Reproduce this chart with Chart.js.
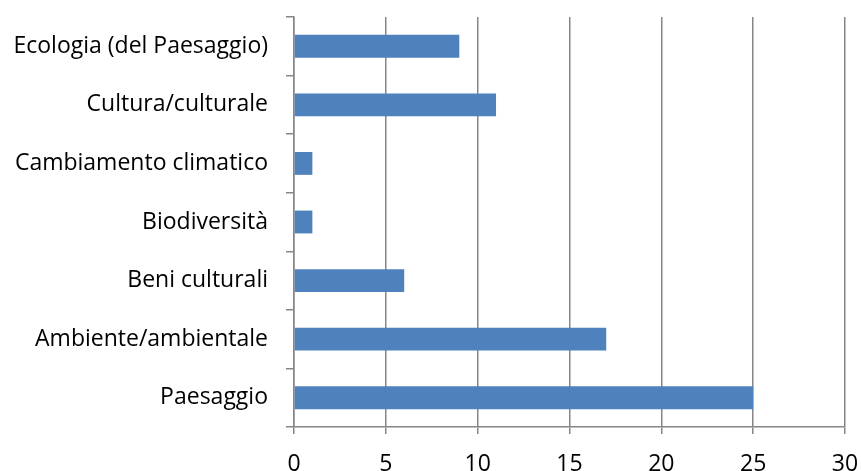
<!DOCTYPE html>
<html><head><meta charset="utf-8">
<script src="https://cdn.jsdelivr.net/npm/chart.js@4/dist/chart.umd.min.js"></script>
<style>html,body{margin:0;padding:0;background:#fff}#w{width:861px;height:471px}</style>
</head><body><div id="w"><canvas id="c"></canvas></div>
<script>
const categories = ["Ecologia (del Paesaggio)","Cultura/culturale","Cambiamento climatico","Biodiversità","Beni culturali","Ambiente/ambientale","Paesaggio"];
const values = [9,11,1,1,6,17,25];
const xTicks = [0,5,10,15,20,25,30];
const gridColor = '#868686';
const font = {family: "'Open Sans', sans-serif", size: 23};
new Chart(document.getElementById('c'), {
  type: 'bar',
  data: {labels: categories, datasets: [{data: values, backgroundColor: '#4f81bd', categoryPercentage: 1, barPercentage: 0.39}]},
  options: {
    indexAxis: 'y', responsive: true, maintainAspectRatio: false, animation: false,
    layout: {padding: {top: 17, right: 16, left: 0, bottom: 0}},
    plugins: {legend: {display: false}, tooltip: {enabled: false}},
    scales: {
      x: {min: 0, max: 30, afterBuildTicks: s => { s.ticks = xTicks.map(v => ({value: v})); },
        grid: {color: gridColor, lineWidth: 1.5, tickLength: 7},
        border: {color: gridColor, width: 1.5},
        ticks: {color: '#000', font: font, padding: 17, maxRotation: 0},
        afterFit: s => { s.height = 44; s.paddingLeft = 0; s.paddingRight = 0; }},
      y: {grid: {drawOnChartArea: false, color: gridColor, lineWidth: 1.5, tickLength: 8, offset: true},
        border: {color: gridColor, width: 1.5},
        ticks: {color: '#000', font: font, padding: 18},
        afterFit: s => { s.width = 294; s.paddingTop = 0; s.paddingBottom = 0; }}
    }
  }
});
</script></body></html>
